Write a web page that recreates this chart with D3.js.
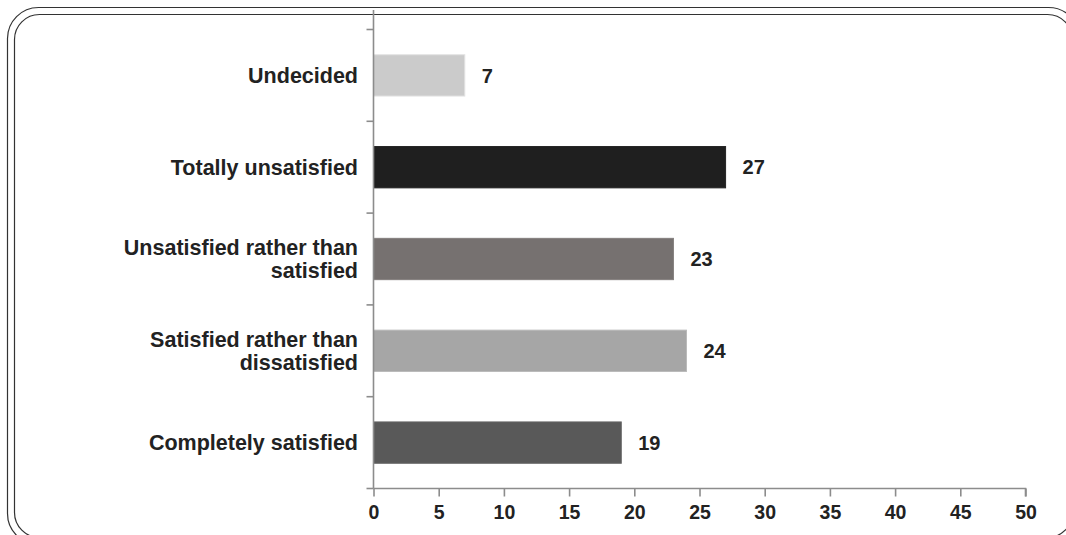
<!DOCTYPE html>
<html>
<head>
<meta charset="utf-8">
<script src="https://cdn.jsdelivr.net/npm/d3@7/dist/d3.min.js"></script>
<style>
  html, body { margin: 0; padding: 0; background: #fff; }
  svg { display: block; }
  text { font-family: "Liberation Sans", Arial, sans-serif; font-weight: bold; fill: #222; }
</style>
</head>
<body>
<svg id="chart" width="1066" height="535"></svg>
<script>
// Survey answers, listed top to bottom
const categories = [
  ["Undecided"],
  ["Totally unsatisfied"],
  ["Unsatisfied rather than", "satisfied"],
  ["Satisfied rather than", "dissatisfied"],
  ["Completely satisfied"]
];
const values = [7, 27, 23, 24, 19];
const barColors = ["#cbcbcb", "#1f1f1f", "#767170", "#a6a6a6", "#595959"];
const xTicks = [0, 5, 10, 15, 20, 25, 30, 35, 40, 45, 50];

const svg = d3.select("#chart");

// Double rounded frame
svg.append("rect")
  .attr("x", 7.5).attr("y", 7.5).attr("width", 1072).attr("height", 537)
  .attr("rx", 31).attr("ry", 31)
  .attr("fill", "none").attr("stroke", "#333").attr("stroke-width", 1.2);
svg.append("rect")
  .attr("x", 14.5).attr("y", 14.5).attr("width", 1058).attr("height", 523)
  .attr("rx", 25).attr("ry", 25)
  .attr("fill", "none").attr("stroke", "#333").attr("stroke-width", 1.2);

const plotLeft = 373.5, plotRight = 1025.5, plotTop = 29.5, plotBottom = 488.5;

const x = d3.scaleLinear().domain([0, 50]).range([plotLeft, plotRight]);
const idx = d3.range(categories.length);
const y = d3.scaleBand().domain(idx).range([plotTop, plotBottom]).paddingInner(0.55).paddingOuter(0.275);
const band = d3.scaleBand().domain(idx).range([plotTop, plotBottom]);

const axisColor = "#8c8c8c";
const catSize = 21.5, valSize = 20, tickSize = 19.5;

// Bars
svg.append("g").selectAll("rect").data(idx).join("rect")
  .attr("x", x(0))
  .attr("y", i => y(i))
  .attr("width", i => x(values[i]) - x(0))
  .attr("height", y.bandwidth())
  .attr("fill", i => barColors[i])
  .attr("stroke", i => d3.color(barColors[i]).brighter(0.3))
  .attr("stroke-width", 1);

// Value labels
svg.append("g").selectAll("text").data(idx).join("text")
  .attr("x", i => x(values[i]) + 17)
  .attr("y", i => y(i) + y.bandwidth() / 2)
  .attr("dy", "0.36em")
  .attr("font-size", valSize)
  .text(i => values[i]);

// Category labels
const cat = svg.append("g").selectAll("text").data(idx).join("text")
  .attr("text-anchor", "end")
  .attr("font-size", catSize)
  .attr("y", i => y(i) + y.bandwidth() / 2);
cat.each(function(i) {
  const lines = categories[i];
  const t = d3.select(this);
  const lh = 23;
  lines.forEach((ln, k) => {
    t.append("tspan")
      .attr("x", 358)
      .attr("dy", k === 0 ? (0.36 * catSize - (lines.length - 1) * lh / 2) : lh)
      .text(ln);
  });
});

// Vertical category axis with ticks between categories
const yAxisG = svg.append("g");
yAxisG.append("line")
  .attr("x1", plotLeft).attr("x2", plotLeft).attr("y1", 10).attr("y2", plotBottom)
  .attr("stroke", axisColor).attr("stroke-width", 1.6);
yAxisG.selectAll("line.tk").data(d3.range(categories.length + 1)).join("line")
  .attr("class", "tk")
  .attr("x1", plotLeft - 7).attr("x2", plotLeft)
  .attr("y1", i => i < categories.length ? band(i) : plotBottom)
  .attr("y2", i => i < categories.length ? band(i) : plotBottom)
  .attr("stroke", axisColor).attr("stroke-width", 1.6);

// Horizontal value axis
const xAxis = d3.axisBottom(x).tickValues(xTicks).tickSize(8).tickPadding(9).tickFormat(d3.format("d"));
const xg = svg.append("g").attr("transform", `translate(0,${plotBottom})`).call(xAxis);
xg.select(".domain").attr("stroke", axisColor).attr("stroke-width", 1.6).attr("d", `M${plotLeft},0H${plotRight}V8`);
xg.selectAll(".tick line").attr("stroke", axisColor).attr("stroke-width", 1.6);
xg.selectAll(".tick text")
  .attr("font-size", tickSize).attr("font-family", "'Liberation Sans', Arial, sans-serif")
  .attr("font-weight", "bold").attr("fill", "#222");
</script>
</body>
</html>
